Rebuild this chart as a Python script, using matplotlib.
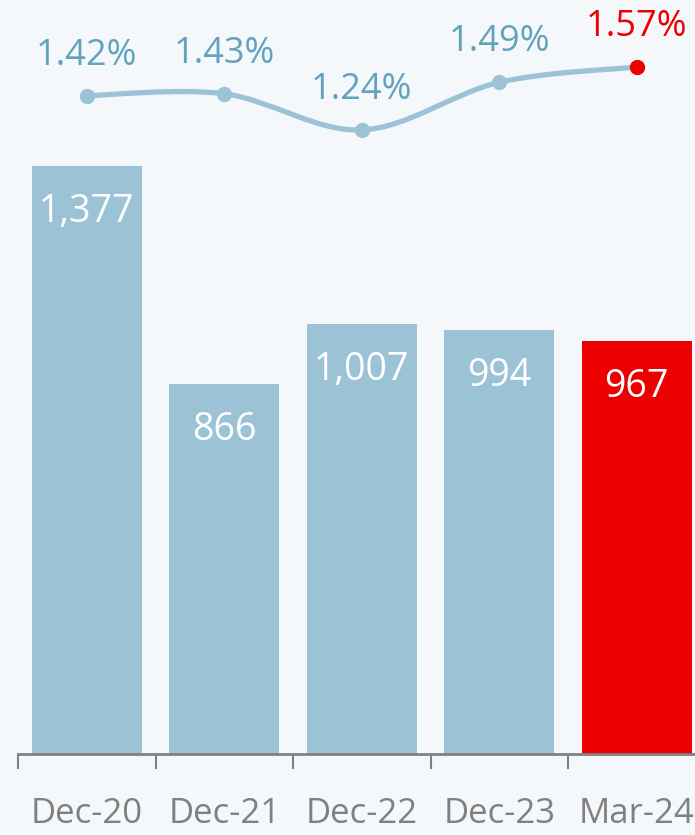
import matplotlib
matplotlib.use("Agg")
import matplotlib.pyplot as plt
from matplotlib.path import Path
from matplotlib.patches import PathPatch

categories = ["Dec-20", "Dec-21", "Dec-22", "Dec-23", "Mar-24"]
npl_values = [1377, 866, 1007, 994, 967]
npl_labels = ["1,377", "866", "1,007", "994", "967"]
ratio_values = [1.42, 1.43, 1.24, 1.49, 1.57]
ratio_labels = ["1.42%", "1.43%", "1.24%", "1.49%", "1.57%"]

BG = "#f5f8fb"
BLUE = "#9cc3d5"
TEXT_BLUE = "#62a2bd"
RED = "#ec0000"
GREY = "#808080"

plt.rcParams['font.family'] = ['Open Sans', 'DejaVu Sans']

W, H = 695, 835
fig = plt.figure(figsize=(W / 100, H / 100), dpi=100, facecolor=BG)
left = 18 / W
bottom = (H - 754) / H
ax = fig.add_axes([left, bottom, 1 - left, 1 - bottom], facecolor=BG)
band = 137.5
ax.set_xlim(-0.5, -0.5 + (W - 18) / band)
ax.set_ylim(0, 754 / 0.427)

x = list(range(len(categories)))
colors = [BLUE] * (len(categories) - 1) + [RED]
ax.bar(x, npl_values, width=0.8, color=colors, zorder=2)
for xi, v, lab in zip(x, npl_values, npl_labels):
    ax.annotate(lab, (xi, v), xytext=(0, -46 * 0.72), textcoords="offset points",
                ha="center", va="center", color="white", fontsize=27)

for s in ["top", "right", "left"]:
    ax.spines[s].set_visible(False)
ax.spines["bottom"].set_color(GREY)
ax.spines["bottom"].set_linewidth(2)
ax.set_yticks([])
ax.set_xticks([i - 0.5 for i in range(len(categories))])
ax.set_xticklabels([])
ax.tick_params(axis="x", which="major", length=11, width=1.5, color=GREY)
ax.set_xticks(x, minor=True)
ax.set_xticklabels(categories, minor=True)
ax.tick_params(axis="x", which="minor", length=0, pad=31, labelsize=25, labelcolor=GREY)

# line axis
ax2 = ax.twinx()
ax2.set_ylim(1.57 - (754 - 67) / 190.9, 1.57 + 67 / 190.9)
ax2.axis("off")
ax2.set_xlim(ax.get_xlim())

# smooth Catmull-Rom curve via Bezier path
pts = list(zip(x, ratio_values))
verts = [pts[0]]
codes = [Path.MOVETO]
n = len(pts)
for i in range(n - 1):
    p0 = pts[max(i - 1, 0)]
    p1 = pts[i]
    p2 = pts[i + 1]
    p3 = pts[min(i + 2, n - 1)]
    c1 = (p1[0] + (p2[0] - p0[0]) / 6, p1[1] + (p2[1] - p0[1]) / 6)
    c2 = (p2[0] - (p3[0] - p1[0]) / 6, p2[1] - (p3[1] - p1[1]) / 6)
    verts += [c1, c2, p2]
    codes += [Path.CURVE4] * 3
patch = PathPatch(Path(verts, codes), facecolor="none", edgecolor=BLUE, lw=3.8,
                  capstyle="round", zorder=3)
ax2.add_patch(patch)
ax2.plot(x[:-1], ratio_values[:-1], "o", color=BLUE, markersize=10, zorder=4)
ax2.plot(x[-1:], ratio_values[-1:], "o", color=RED, markersize=10, zorder=4)
for i, (xi, v, lab) in enumerate(zip(x, ratio_values, ratio_labels)):
    c = RED if i == n - 1 else TEXT_BLUE
    ax2.annotate(lab, (xi, v), xytext=(0, 40 * 0.72), textcoords="offset points",
                 ha="center", va="center", color=c, fontsize=26)

fig.savefig("out.png", dpi=100, facecolor=BG)
